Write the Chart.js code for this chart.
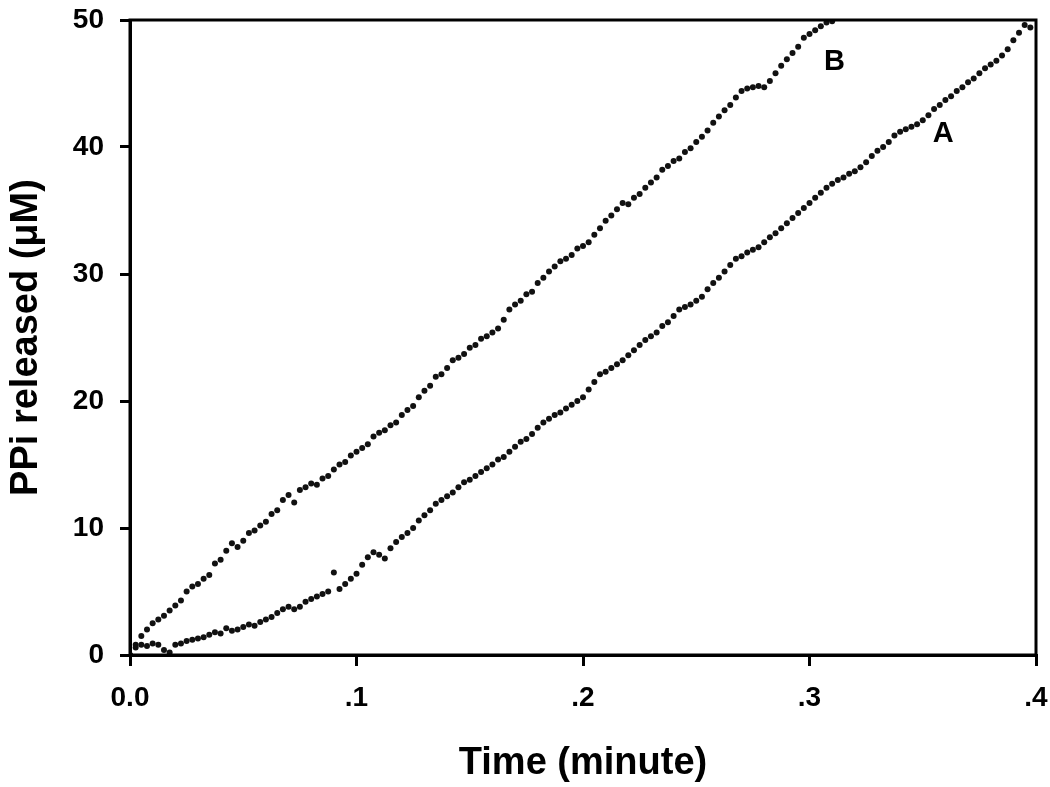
<!DOCTYPE html>
<html>
<head>
<meta charset="utf-8">
<script src="https://cdn.jsdelivr.net/npm/chart.js@4.4.1/dist/chart.umd.min.js"></script>
<style>
  html, body { margin: 0; padding: 0; background: #fff; }
</style>
</head>
<body>
<canvas id="ppiChart" width="1050" height="787"></canvas>
<script>
// sampling times (minute)
const timeMin = [
  0, .0025, .005, .0075, .01, .0125, .015, .0175, .02, .0225,
  .025, .0275, .03, .0325, .035, .0375, .04, .0425, .045, .0475,
  .05, .0525, .055, .0575, .06, .0625, .065, .0675, .07, .0725,
  .075, .0775, .08, .0825, .085, .0875, .09, .0925, .095, .0975,
  .1, .1025, .105, .1075, .11, .1125, .115, .1175, .12, .1225,
  .125, .1275, .13, .1325, .135, .1375, .14, .1425, .145, .1475,
  .15, .1525, .155, .1575, .16, .1625, .165, .1675, .17, .1725,
  .175, .1775, .18, .1825, .185, .1875, .19, .1925, .195, .1975,
  .2, .2025, .205, .2075, .21, .2125, .215, .2175, .22, .2225,
  .225, .2275, .23, .2325, .235, .2375, .24, .2425, .245, .2475,
  .25, .2525, .255, .2575, .26, .2625, .265, .2675, .27, .2725,
  .275, .2775, .28, .2825, .285, .2875, .29, .2925, .295, .2975,
  .3, .3025, .305, .3075, .31, .3125, .315, .3175, .32, .3225,
  .325, .3275, .33, .3325, .335, .3375, .34, .3425, .345, .3475,
  .35, .3525, .355, .3575, .36, .3625, .365, .3675, .37, .3725,
  .375, .3775, .38, .3825, .385, .3875, .39, .3925, .395, .3975
]

// PPi released (uM), curve A (lag then linear)
const ppiA = [
  0.0, 0.6, 0.8, 0.7, 0.9, 0.8, 0.4, 0.2, 0.8, 0.9,
  1.1, 1.2, 1.3, 1.4, 1.6, 1.8, 1.7, 2.1, 1.9, 2.0,
  2.2, 2.4, 2.3, 2.6, 2.8, 3.0, 3.3, 3.6, 3.8, 3.6,
  3.8, 4.2, 4.4, 4.6, 4.8, 5.0, 6.5, 5.2, 5.6, 6.0,
  6.4, 7.1, 7.7, 8.1, 7.9, 7.6, 8.4, 8.9, 9.3, 9.6,
  10.0, 10.6, 11.0, 11.4, 11.9, 12.2, 12.5, 12.8, 13.2, 13.6,
  13.8, 14.1, 14.4, 14.7, 15.0, 15.4, 15.6, 16.0, 16.4, 16.8,
  17.0, 17.4, 17.9, 18.3, 18.6, 18.9, 19.1, 19.4, 19.7, 20.0,
  20.3, 20.9, 21.5, 22.1, 22.3, 22.6, 22.9, 23.2, 23.6, 24.0,
  24.4, 24.8, 25.1, 25.4, 25.9, 26.2, 26.7, 27.2, 27.4, 27.6,
  27.9, 28.2, 28.8, 29.3, 29.7, 30.2, 30.7, 31.2, 31.4, 31.7,
  31.9, 32.1, 32.5, 32.9, 33.2, 33.6, 34.0, 34.4, 34.8, 35.2,
  35.6, 36.0, 36.4, 36.8, 37.1, 37.4, 37.6, 37.9, 38.1, 38.4,
  38.8, 39.3, 39.7, 40.0, 40.4, 40.9, 41.2, 41.4, 41.6, 41.8,
  42.1, 42.5, 43.0, 43.3, 43.7, 44.0, 44.4, 44.7, 45.1, 45.4,
  45.8, 46.2, 46.5, 46.8, 47.2, 47.7, 48.4, 49.0, 49.6, 49.4
]

// PPi released (uM), curve B (no lag)
const ppiB = [
  0.0, 0.8, 1.5, 2.0, 2.5, 2.8, 3.1, 3.5, 3.9, 4.3,
  5.0, 5.4, 5.6, 6.0, 6.3, 7.2, 7.5, 8.2, 8.8, 8.5,
  9.0, 9.6, 9.8, 10.2, 10.5, 11.1, 11.4, 12.2, 12.6, 12.0,
  13.0, 13.2, 13.5, 13.4, 13.9, 14.1, 14.6, 15.0, 15.2, 15.7,
  16.0, 16.3, 16.6, 17.2, 17.5, 17.7, 18.1, 18.3, 18.9, 19.3,
  19.6, 20.3, 20.8, 21.2, 21.9, 22.1, 22.6, 23.2, 23.4, 23.7,
  24.2, 24.4, 24.9, 25.1, 25.4, 25.7, 26.4, 27.2, 27.6, 27.9,
  28.4, 28.6, 29.3, 29.7, 30.2, 30.6, 31.0, 31.2, 31.5, 32.0,
  32.2, 32.5, 33.1, 33.6, 34.2, 34.6, 35.1, 35.6, 35.5, 36.0,
  36.3, 36.8, 37.2, 37.6, 38.2, 38.5, 38.9, 39.1, 39.6, 39.9,
  40.4, 40.8, 41.3, 41.9, 42.4, 42.9, 43.3, 43.9, 44.4, 44.6,
  44.7, 44.8, 44.7, 45.2, 45.8, 46.4, 46.9, 47.4, 47.9, 48.6,
  48.9, 49.2, 49.5, 49.8, 49.9
]

const xTickValues = [0, 0.1, 0.2, 0.3, 0.4]
const xTickLabels = ["0.0", ".1", ".2", ".3", ".4"]
const yTickValues = [0, 10, 20, 30, 40, 50]

const curveNames = ["A", "B"]
// label anchors in data units (time, uM)
const curveLabelTime = [0.359, 0.311]
const curveLabelPpi = [41.0, 46.7]

const FONT = "'Liberation Sans', Arial, sans-serif"

const toPoints = (ys) => ys.map((y, i) => ({ x: timeMin[i], y: y }))

// box around the plot and the A / B curve labels
const framePlugin = {
  id: "frame",
  afterDraw(chart) {
    const { ctx, chartArea, scales } = chart
    ctx.save()
    ctx.strokeStyle = "#000"
    ctx.lineWidth = 3
    ctx.strokeRect(chartArea.left, chartArea.top, chartArea.right - chartArea.left, chartArea.bottom - chartArea.top)
    ctx.fillStyle = "#000"
    ctx.font = "bold 29px " + FONT
    ctx.textAlign = "center"
    ctx.textBaseline = "middle"
    curveNames.forEach((name, i) => {
      ctx.fillText(name, scales.x.getPixelForValue(curveLabelTime[i]), scales.y.getPixelForValue(curveLabelPpi[i]))
    })
    ctx.restore()
  },
}

const pointStyle = {
  showLine: false,
  pointRadius: 3,
  pointHoverRadius: 3,
  pointBackgroundColor: "#111",
  pointBorderColor: "#111",
  pointBorderWidth: 0,
}

new Chart(document.getElementById("ppiChart"), {
  type: "scatter",
  data: {
    datasets: [
      Object.assign({ label: "A", data: toPoints(ppiA) }, pointStyle),
      Object.assign({ label: "B", data: toPoints(ppiB) }, pointStyle),
    ],
  },
  options: {
    responsive: false,
    animation: false,
    layout: { padding: { top: 20, right: 14, left: 0, bottom: 0 } },
    plugins: {
      legend: { display: false },
      tooltip: { enabled: false },
    },
    scales: {
      x: {
        type: "linear",
        min: 0,
        max: 0.4,
        afterBuildTicks: (scale) => {
          scale.ticks = xTickValues.map((v) => ({ value: v }))
        },
        afterFit: (scale) => {
          scale.height = 132
          scale.paddingLeft = 0
          scale.paddingRight = 0
        },
        border: { color: "#000", width: 3 },
        grid: { drawOnChartArea: false, drawTicks: true, tickLength: 11, color: "#000", lineWidth: 3 },
        ticks: {
          color: "#000",
          padding: 15,
          maxRotation: 0,
          font: { family: FONT, size: 28, weight: "bold" },
          callback: (value) => xTickLabels[xTickValues.indexOf(value)],
        },
        title: {
          display: true,
          text: "Time (minute)",
          color: "#000",
          font: { family: FONT, size: 38, weight: "bold" },
          padding: { top: 0, bottom: 1 },
        },
      },
      y: {
        type: "linear",
        min: 0,
        max: 50,
        afterBuildTicks: (scale) => {
          scale.ticks = yTickValues.map((v) => ({ value: v }))
        },
        afterFit: (scale) => {
          scale.width = 130
          scale.paddingTop = 0
          scale.paddingBottom = 0
        },
        border: { color: "#000", width: 3 },
        grid: { drawOnChartArea: false, drawTicks: true, tickLength: 10, color: "#000", lineWidth: 3 },
        ticks: {
          color: "#000",
          padding: 16,
          font: { family: FONT, size: 28, weight: "bold" },
        },
        title: {
          display: true,
          text: "PPi released (μM)",
          color: "#000",
          font: { family: FONT, size: 38, weight: "bold" },
          padding: { top: 4, bottom: 0 },
        },
      },
    },
  },
  plugins: [framePlugin],
})
</script>
</body>
</html>
